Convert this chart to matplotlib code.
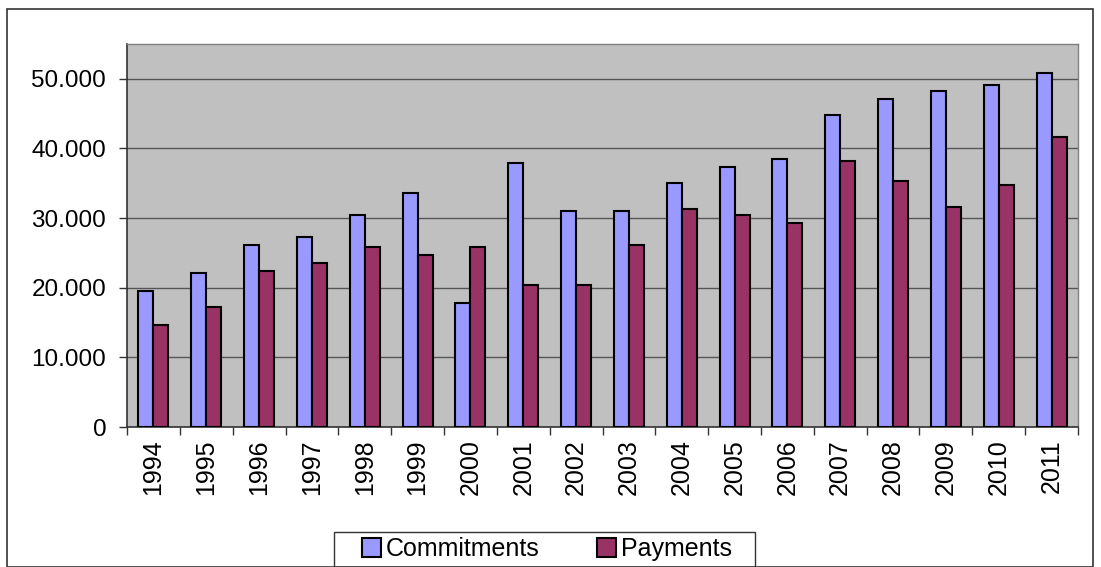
import matplotlib

matplotlib.use("Agg")
import matplotlib.pyplot as plt
import numpy as np
from matplotlib.patches import Rectangle
from matplotlib.ticker import FixedLocator, FuncFormatter

plt.rcParams["font.family"] = ["Liberation Sans", "DejaVu Sans"]

years = [str(y) for y in range(1994, 2012)]
commitments = [19540, 22130, 26150, 27300, 30460, 33620, 17770, 37930, 30990,
               30990, 35010, 37360, 38510, 44830, 47130, 48280, 49140, 50860]
payments = [14610, 17190, 22410, 23560, 25810, 24710, 25810, 20350, 20350,
            26150, 31270, 30410, 29260, 38220, 35340, 31610, 34770, 41670]
series_names = ["Commitments", "Payments"]

W, H = 1101, 567
fig = plt.figure(figsize=(W / 100, H / 100), dpi=100)
ax = fig.add_axes([127 / W, 1 - 427 / H, (1078 - 127) / W, (427 - 44) / H])

x = np.arange(len(years))
bw = 0.285
b1 = ax.bar(x - bw / 2, commitments, bw, color="#9999FF", edgecolor="black",
            linewidth=1.5, label=series_names[0], zorder=3)
b2 = ax.bar(x + bw / 2, payments, bw, color="#993366", edgecolor="black",
            linewidth=1.5, label=series_names[1], zorder=3)

ax.set_facecolor("#C0C0C0")
ax.set_xlim(-0.5, len(years) - 0.5)
ax.set_ylim(0, 55000)
ax.set_yticks(range(0, 50001, 10000))
ax.yaxis.set_major_formatter(FuncFormatter(lambda v, _: f"{int(v):,}".replace(",", ".")))
ax.grid(axis="y", color="#555555", linewidth=1.0, zorder=1)

ax.set_xticks(x)
ax.set_xticklabels(years, rotation=90)
ax.xaxis.set_minor_locator(FixedLocator(np.arange(-0.5, len(years), 1.0)))
ax.tick_params(axis="x", which="major", length=0, pad=9, labelsize=18)
ax.tick_params(axis="x", which="minor", length=6, width=1, color="#333333")
ax.tick_params(axis="y", length=6, width=1, color="#333333", labelsize=17.5, pad=9)

for side in ("top", "right"):
    ax.spines[side].set_color("#808080")
    ax.spines[side].set_linewidth(1)
for side in ("left", "bottom"):
    ax.spines[side].set_color("#333333")
    ax.spines[side].set_linewidth(1.2)

# legend without its own frame; the box is drawn separately (wider side padding)
leg = fig.legend(handles=[b1, b2], loc="center", bbox_to_anchor=(547 / W, 1 - 549 / H),
                 ncol=2, frameon=False, fontsize=18, handlelength=0.76,
                 handleheight=0.76, handletextpad=0.2, columnspacing=2.3,
                 borderpad=0, borderaxespad=0)
fig.patches.append(Rectangle((334 / W, 0), (755 - 334) / W, (567 - 532) / H,
                             transform=fig.transFigure, fill=False,
                             edgecolor="#333333", linewidth=1))

fig.patches.append(Rectangle((7 / W, 0), (1093 - 7) / W, 1 - 9 / H,
                             transform=fig.transFigure, fill=False,
                             edgecolor="#333333", linewidth=1.2))

fig.savefig("out.png", dpi=100)
